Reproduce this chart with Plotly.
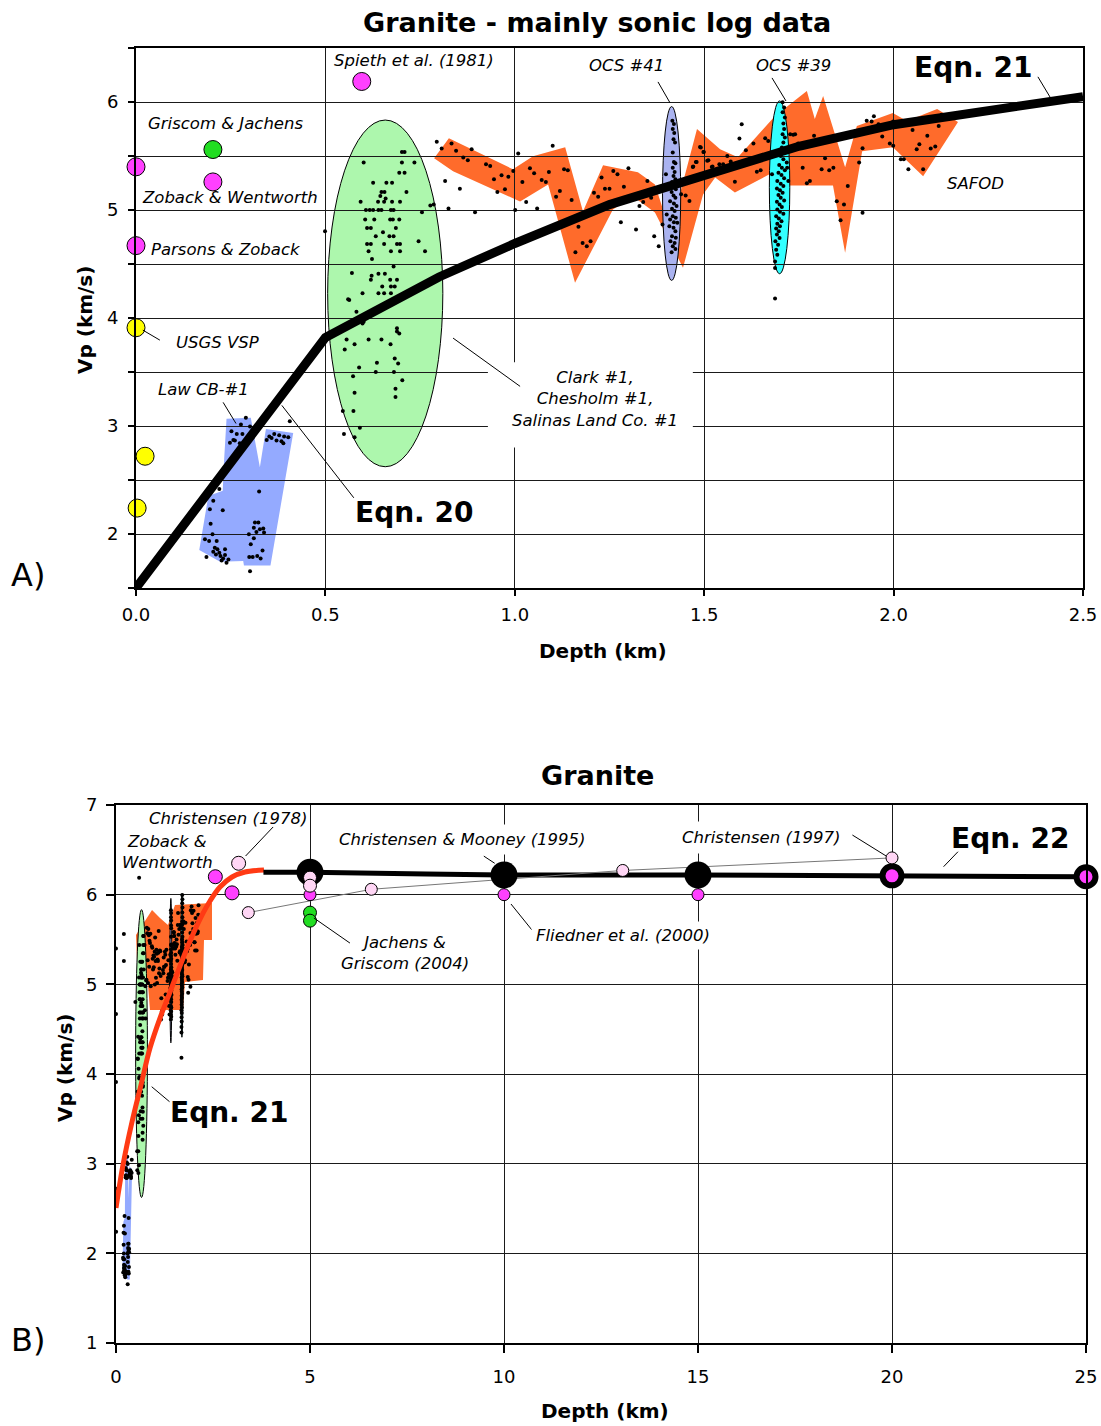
import plotly.graph_objects as go

FONT = "DejaVu Sans"

# ---------------- tick labels ----------------
A_X_TICKS = [0.0, 0.5, 1.0, 1.5, 2.0, 2.5]
A_X_TICKTEXT = ["0.0", "0.5", "1.0", "1.5", "2.0", "2.5"]
A_Y_TICKS = [1.5, 2.0, 2.5, 3.0, 3.5, 4.0, 4.5, 5.0, 5.5, 6.0, 6.5]
A_Y_TICKTEXT = ["", "2", "", "3", "", "4", "", "5", "", "6", ""]
B_X_TICKS = [0, 5, 10, 15, 20, 25]
B_Y_TICKS = [1, 2, 3, 4, 5, 6, 7]

# ---------------- sonic log samples (depth km, Vp km/s) ----------------
# Law CB-#1
law_depth = [0.290, 0.277, 0.301, 0.252, 0.266, 0.281, 0.257, 0.248, 0.261, 0.274, 0.285,
             0.352, 0.365, 0.378, 0.391, 0.402, 0.371, 0.384, 0.389, 0.345, 0.358, 0.406,
             0.220, 0.325, 0.204, 0.195, 0.229, 0.197, 0.314, 0.323, 0.311, 0.327, 0.336,
             0.318, 0.338, 0.298, 0.202, 0.311, 0.182, 0.193, 0.213, 0.303, 0.208, 0.215,
             0.235, 0.334, 0.204, 0.220, 0.211, 0.235, 0.223, 0.230, 0.186, 0.244, 0.226,
             0.239, 0.299, 0.308, 0.320, 0.329, 0.301]
law_vp = [3.076, 3.014, 2.995, 2.952, 2.927, 2.927, 2.871, 2.846, 2.865, 2.840, 2.846,
          2.902, 2.927, 2.915, 2.902, 2.896, 2.865, 2.859, 2.840, 2.871, 2.890, 3.045,
          2.416, 2.394, 2.307, 2.230, 2.220, 2.096, 2.106, 2.106, 2.059, 2.044, 2.050,
          2.019, 2.013, 1.997, 1.997, 1.960, 1.951, 1.935, 1.935, 1.904, 1.873, 1.858,
          1.858, 1.848, 1.836, 1.827, 1.811, 1.805, 1.796, 1.774, 1.786, 1.765, 1.755,
          1.734, 1.786, 1.786, 1.796, 1.774, 1.656]

# Clark #1, Chesholm #1, Salinas Land Co. #1
clark_depth = [0.702, 0.709, 0.601, 0.702, 0.735, 0.695, 0.709, 0.626, 0.661, 0.676,
               0.648, 0.656, 0.714, 0.645, 0.659, 0.593, 0.639, 0.655, 0.676, 0.697,
               0.607, 0.617, 0.626, 0.640, 0.648, 0.673, 0.680, 0.605, 0.629, 0.671,
               0.678, 0.695, 0.610, 0.620, 0.686, 0.652, 0.633, 0.669, 0.680, 0.610,
               0.620, 0.655, 0.689, 0.697, 0.614, 0.673, 0.697, 0.763, 0.623, 0.680,
               0.570, 0.622, 0.640, 0.657, 0.620, 0.671, 0.689, 0.650, 0.673, 0.683,
               0.598, 0.640, 0.655, 0.673, 0.560, 0.582, 0.601, 0.689, 0.689, 0.746,
               0.755, 0.777, 0.786, 0.499,
               0.563, 0.598, 0.556, 0.614, 0.648, 0.695, 0.672, 0.551, 0.577, 0.589,
               0.636, 0.683, 0.692, 0.633, 0.681, 0.573, 0.703, 0.577, 0.685, 0.685,
               0.546, 0.574, 0.591, 0.549, 0.577]
clark_vp = [5.538, 5.538, 5.439, 5.439, 5.439, 5.346, 5.346, 5.253, 5.253, 5.253,
            5.166, 5.166, 5.166, 5.129, 5.107, 5.076, 5.076, 5.076, 5.076, 5.076,
            4.999, 4.999, 4.999, 4.999, 4.999, 4.999, 4.999, 4.912, 4.912, 4.912,
            4.912, 4.912, 4.834, 4.834, 4.834, 4.794, 4.757, 4.757, 4.757, 4.686,
            4.686, 4.686, 4.686, 4.686, 4.618, 4.618, 4.618, 4.618, 4.546, 4.478,
            4.416, 4.391, 4.410, 4.410, 4.354, 4.354, 4.354, 4.292, 4.292, 4.292,
            4.230, 4.230, 4.230, 4.230, 4.174, 4.059, 3.966, 3.904, 3.874, 4.711,
            4.980, 5.042, 5.052, 4.804,
            4.167, 3.950, 3.802, 3.802, 3.802, 3.857, 3.758, 3.709, 3.758, 3.541,
            3.585, 3.625, 3.578, 3.501, 3.501, 3.461, 3.423, 3.309, 3.346, 3.268,
            3.138, 3.138, 2.983, 2.927, 2.896]

# OCS #41
ocs41_depth = [1.416, 1.420, 1.417, 1.421, 1.419, 1.423, 1.417, 1.420, 1.424, 1.417,
               1.422, 1.419, 1.424, 1.415, 1.420, 1.425, 1.414, 1.419, 1.424, 1.410,
               1.420, 1.427, 1.415, 1.422, 1.401, 1.417, 1.425, 1.410, 1.420, 1.429,
               1.408, 1.419, 1.424, 1.415, 1.425, 1.411, 1.422, 1.417, 1.424, 1.414,
               1.399, 1.390]
ocs41_vp = [5.826, 5.796, 5.749, 5.712, 5.656, 5.625, 5.532, 5.445, 5.433, 5.392,
            5.352, 5.315, 5.284, 5.259, 5.228, 5.191, 5.166, 5.135, 5.113, 5.082,
            5.061, 5.036, 5.011, 4.990, 4.959, 4.943, 4.928, 4.912, 4.887, 4.881,
            4.850, 4.835, 4.804, 4.757, 4.742, 4.711, 4.695, 4.664, 4.639, 4.608,
            5.331, 4.866]

# OCS #39
ocs39_depth = [1.707, 1.711, 1.707, 1.713, 1.709, 1.711, 1.707, 1.713, 1.709, 1.705,
               1.712, 1.702, 1.709, 1.718, 1.698, 1.705, 1.713, 1.696, 1.704, 1.711,
               1.693, 1.702, 1.709, 1.692, 1.700, 1.707, 1.696, 1.702, 1.711, 1.692,
               1.699, 1.705, 1.693, 1.700, 1.709, 1.690, 1.697, 1.704, 1.693, 1.700,
               1.690, 1.697, 1.692, 1.699, 1.688, 1.695, 1.690, 1.693, 1.687, 1.687,
               1.679, 1.727, 1.740, 1.719, 1.722, 1.687]
ocs39_vp = [5.997, 5.950, 5.904, 5.857, 5.802, 5.749, 5.702, 5.671, 5.625, 5.578,
            5.532, 5.501, 5.470, 5.439, 5.417, 5.392, 5.368, 5.346, 5.324, 5.293,
            5.268, 5.244, 5.222, 5.200, 5.182, 5.160, 5.138, 5.113, 5.089, 5.076,
            5.051, 5.027, 5.005, 4.983, 4.965, 4.943, 4.921, 4.896, 4.872, 4.850,
            4.828, 4.803, 4.772, 4.741, 4.710, 4.679, 4.633, 4.586, 4.524, 4.462,
            5.330, 5.702, 5.702, 5.392, 5.268, 4.180]

# SAFOD and neighbouring wells
safod_depth = [0.794, 0.807, 0.833, 0.845, 0.864, 0.876, 0.886, 0.816, 0.855, 0.825,
               0.895, 0.924, 0.935, 0.945, 0.965, 0.983, 0.954, 0.974, 0.996, 1.009,
               1.020, 1.030, 1.040, 1.051, 1.059, 1.071, 1.082, 1.090, 1.100, 1.109,
               1.119, 1.130, 1.140, 1.150, 1.001, 1.168, 1.179, 1.190, 1.200, 1.160,
               1.209, 1.220, 1.229, 1.238, 1.250, 1.260, 1.271, 1.288, 1.300, 1.280,
               1.320, 1.329, 1.339, 1.350, 1.360, 1.368, 1.380, 1.439, 1.451, 1.461,
               1.471, 1.478, 1.491, 1.499, 1.508, 1.522, 1.531,
               1.489, 1.498, 1.480, 1.470, 1.511, 1.520, 1.540, 1.550, 1.561, 1.570,
               1.581, 1.593, 1.599, 1.610, 1.630, 1.639, 1.649, 1.661, 1.669, 1.735,
               1.748, 1.760, 1.771, 1.779, 1.790, 1.810, 1.819, 1.830, 1.841, 1.850,
               1.860, 1.869, 1.879, 1.909, 1.918, 1.918, 1.929, 1.942, 1.948, 1.960,
               1.970, 1.990, 1.999, 1.999, 2.019, 2.027, 2.039, 2.050, 2.061, 2.068,
               2.078, 2.089, 2.098, 2.110, 2.119, 2.127]
safod_vp = [5.631, 5.569, 5.616, 5.548, 5.486, 5.461, 5.563, 5.269, 5.197, 5.014,
            4.980, 5.424, 5.408, 5.284, 5.321, 5.309, 5.166, 5.191, 5.362, 5.523,
            5.259, 5.073, 5.386, 5.340, 5.014, 5.278, 5.259, 5.352, 5.594, 5.123,
            5.176, 5.377, 5.368, 5.092, 4.999, 4.844, 4.695, 4.664, 4.711, 4.608,
            5.160, 5.123, 5.300, 5.197, 5.197, 5.362, 5.331, 5.216, 5.386, 4.887,
            4.819, 5.036, 5.073, 5.269, 5.113, 4.757, 4.664, 5.145, 5.135, 5.083,
            5.402, 5.445, 5.579, 5.538, 5.455, 5.402, 5.331,
            5.584, 5.538, 5.445, 5.399, 5.461, 5.399, 5.423, 5.423, 5.501, 5.448,
            5.262, 5.662, 5.795, 5.554, 5.616, 5.355, 5.368, 5.665, 5.640, 5.696,
            5.616, 5.392, 5.247, 5.268, 5.687, 5.377, 5.479, 5.368, 5.392, 5.082,
            4.906, 5.051, 5.222, 5.439, 5.572, 4.974, 5.826, 5.820, 5.867, 5.795,
            5.681, 5.616, 5.594, 5.820, 5.470, 5.470, 5.377, 5.740, 5.563, 5.609,
            5.377, 5.687, 5.569, 5.588, 5.777, 5.882]

# ---------------- envelopes around the log data ----------------
law_env_depth = [0.239, 0.303, 0.327, 0.343, 0.415, 0.355, 0.285, 0.283, 0.222, 0.167,
                 0.191, 0.229, 0.232]
law_env_vp = [3.067, 3.076, 2.617, 2.973, 2.936, 1.709, 1.709, 1.749, 1.743, 1.851,
              2.353, 2.400, 2.648]

# SAFOD band, panel A
safod_env_depth = [0.787, 0.826, 0.995, 1.048, 1.133, 1.180, 1.233, 1.325, 1.370, 1.410,
                   1.481, 1.542, 1.589, 1.687, 1.771, 1.792, 1.814, 1.872, 1.903, 1.998,
                   2.035, 2.115, 2.170,
                   2.078, 1.998, 1.917, 1.872, 1.840, 1.726, 1.687, 1.581, 1.529, 1.497,
                   1.444, 1.370, 1.312, 1.259, 1.159, 1.088, 1.014, 0.837]
safod_env_vp = [5.479, 5.665, 5.377, 5.498, 5.581, 4.986, 5.414, 5.349, 5.237, 4.800,
                5.749, 5.563, 5.488, 5.870, 6.102, 5.842, 6.056, 5.395, 5.777, 5.898,
                5.823, 5.935, 5.814,
                5.312, 5.581, 5.544, 4.605, 5.228, 5.228, 5.358, 5.163, 5.302, 5.144,
                4.465, 4.977, 5.126, 5.005, 4.326, 5.237, 5.079, 5.358]

# SAFOD block, panel B
safodB_env_depth = [0.515, 0.928, 1.134, 1.340, 1.521, 2.474, 2.474, 2.268, 2.242, 1.778,
                    1.727, 0.876, 0.825, 0.567]
safodB_env_vp = [5.550, 5.829, 5.740, 5.662, 5.885, 5.907, 5.494, 5.494, 5.048, 5.026,
                 4.714, 4.714, 4.993, 4.993]

# ellipse bounds: [depth0, depth1, vp0, vp1]
clark_ellipse = [0.506, 0.810, 2.623, 5.833]
ocs41_ellipse = [1.390, 1.438, 4.348, 5.958]
ocs39_ellipse = [1.672, 1.726, 4.410, 6.010]

# ---------------- point estimates, panel A ----------------
magentaA_depth = [0.0, 0.0, 0.203, 0.596]
magentaA_vp = [5.40, 4.67, 5.26, 6.19]
greenA_depth = [0.203]
greenA_vp = [5.56]
yellowA_depth = [0.0, 0.024, 0.003]
yellowA_vp = [3.91, 2.72, 2.24]

# Eqn. 20 and Eqn. 21
eqnA_depth = [0.0, 0.5, 0.8, 1.0, 1.25, 1.5, 1.75, 2.0, 2.25, 2.5]
eqnA_vp = [1.50, 3.82, 4.38, 4.69, 5.05, 5.32, 5.59, 5.79, 5.92, 6.05]

# ---------------- panel B ----------------
eqn21B_depth = [0.0, 0.180, 0.412, 0.644, 0.876, 1.134, 1.392, 1.649, 1.907, 2.165,
                2.423, 2.680, 2.990, 3.325, 3.814]
eqn21B_vp = [2.506, 2.985, 3.465, 3.877, 4.290, 4.624, 4.914, 5.204, 5.483, 5.728,
             5.929, 6.085, 6.197, 6.253, 6.275]

eqn22_depth = [3.8, 5.0, 8.0, 10.0, 15.0, 20.0, 22.5, 25.0]
eqn22_vp = [6.25, 6.25, 6.23, 6.22, 6.22, 6.21, 6.20, 6.20]

zw_depth = [2.56, 2.99]
zw_vp = [6.20, 6.02]
chr78_depth = [3.16]
chr78_vp = [6.35]
chr97_depth = [3.41, 6.58, 13.06, 20.0]
chr97_vp = [5.80, 6.06, 6.27, 6.41]
chr5_depth = [5.0, 5.0]
chr5_vp = [6.19, 6.10]
fliedner_depth = [5.0, 10.0, 15.0]
fliedner_vp = [6.00, 6.00, 6.00]
jachens_depth = [5.0, 5.0]
jachens_vp = [5.80, 5.71]
cm95_depth = [5.0, 10.0, 15.0]
cm95_vp = [6.25, 6.22, 6.22]
eqn22pts_depth = [20.0, 25.0]
eqn22pts_vp = [6.21, 6.20]

# ---------------- colours ----------------
ORANGE = "#ff6b2b"
LAWBLUE = "#94aaff"
CLARKGREEN = "#adf7ad"
LAVENDER = "#aab3f0"
CYAN = "#33ffff"
MAGENTA = "#ff40ff"
GREEN = "#22dd22"
YELLOW = "#ffff00"
PINK = "#ffd6f5"
RED = "#ff3a14"


def poly_path(xs, ys):
    pts = [f"{x},{y}" for x, y in zip(xs, ys)]
    return "M " + " L ".join(pts) + " Z"


fig = go.Figure()
shapes = []
annotations = []

# envelopes and ellipses, drawn in both panels beneath the grid
for xr, yr, ex, ey in (("x", "y", safod_env_depth, safod_env_vp),
                       ("x2", "y2", safodB_env_depth, safodB_env_vp)):
    shapes.append(dict(type="path", path=poly_path(ex, ey),
                       xref=xr, yref=yr, fillcolor=ORANGE, line=dict(width=0), layer="below"))
    shapes.append(dict(type="path", path=poly_path(law_env_depth, law_env_vp),
                       xref=xr, yref=yr, fillcolor=LAWBLUE, line=dict(width=0), layer="below"))
    for bounds, col in ((clark_ellipse, CLARKGREEN), (ocs41_ellipse, LAVENDER),
                        (ocs39_ellipse, CYAN)):
        shapes.append(dict(type="circle", xref=xr, yref=yr,
                           x0=bounds[0], x1=bounds[1], y0=bounds[2], y1=bounds[3],
                           fillcolor=col, line=dict(color="black", width=1), layer="below"))

all_depth = law_depth + clark_depth + ocs41_depth + ocs39_depth + safod_depth
all_vp = law_vp + clark_vp + ocs41_vp + ocs39_vp + safod_vp

# ---------- panel A ----------
fig.add_trace(go.Scatter(x=all_depth, y=all_vp, mode="markers",
                         marker=dict(size=4, color="black"), xaxis="x", yaxis="y",
                         cliponaxis=False, hoverinfo="skip"))
fig.add_trace(go.Scatter(x=eqnA_depth, y=eqnA_vp, mode="lines",
                         line=dict(color="black", width=9), xaxis="x", yaxis="y",
                         hoverinfo="skip"))
for xs, ys, col in ((magentaA_depth, magentaA_vp, MAGENTA),
                    (greenA_depth, greenA_vp, GREEN),
                    (yellowA_depth, yellowA_vp, YELLOW)):
    fig.add_trace(go.Scatter(x=xs, y=ys, mode="markers",
                             marker=dict(size=18, color=col, line=dict(color="black", width=1)),
                             xaxis="x", yaxis="y", cliponaxis=False, hoverinfo="skip"))

# white block behind the well names
shapes.append(dict(type="rect", xref="x", yref="y", x0=0.929, x1=1.470, y0=2.800, y1=3.591,
                   fillcolor="white", line=dict(width=0), layer="between"))

leadersA = [
    (0.018, 3.888, 0.063, 3.795),
    (0.230, 3.219, 0.264, 3.023),
    (0.385, 3.191, 0.575, 2.335),
    (1.378, 6.186, 1.410, 5.991),
    (1.679, 6.223, 1.716, 6.009),
    (2.381, 6.233, 2.416, 6.028),
    (0.837, 3.814, 1.014, 3.367),
]
for x0, y0, x1, y1 in leadersA:
    shapes.append(dict(type="line", xref="x", yref="y", x0=x0, y0=y0, x1=x1, y1=y1,
                       line=dict(color="black", width=1), layer="above"))

ital = dict(family=FONT, size=16.5, color="black")
eqnfont = dict(family=FONT, size=28, color="black", weight="bold")

labelsA = [
    ("<i>Spieth et al. (1981)</i>", 0.734, 6.381),
    ("<i>Griscom &amp; Jachens</i>", 0.235, 5.805),
    ("<i>Zoback &amp; Wentworth</i>", 0.248, 5.116),
    ("<i>Parsons &amp; Zoback</i>", 0.238, 4.633),
    ("<i>USGS VSP</i>", 0.216, 3.777),
    ("<i>Law CB-#1</i>", 0.177, 3.340),
    ("<i>OCS #41</i>", 1.296, 6.335),
    ("<i>OCS #39</i>", 1.737, 6.335),
    ("<i>SAFOD</i>", 2.215, 5.247),
    ("<i>Clark #1,<br>Chesholm #1,<br>Salinas Land Co. #1</i>", 1.212, 3.247),
]
for txt, x, y in labelsA:
    annotations.append(dict(text=txt, x=x, y=y, xref="x", yref="y", showarrow=False,
                            font=ital, xanchor="center", yanchor="middle"))
for txt, x, y in (("Eqn. 20", 0.734, 2.195), ("Eqn. 21", 2.210, 6.316)):
    annotations.append(dict(text=txt, x=x, y=y, xref="x", yref="y", showarrow=False,
                            font=eqnfont, xanchor="center", yanchor="middle"))

# ---------- panel B ----------
lit_depth = magentaA_depth + greenA_depth + yellowA_depth
lit_vp = magentaA_vp + greenA_vp + yellowA_vp
fig.add_trace(go.Scatter(x=all_depth + lit_depth, y=all_vp + lit_vp, mode="markers",
                         marker=dict(size=4, color="black"), xaxis="x2", yaxis="y2",
                         cliponaxis=False, hoverinfo="skip"))
fig.add_trace(go.Scatter(x=eqn21B_depth, y=eqn21B_vp, mode="lines", line_shape="spline",
                         line=dict(color=RED, width=5), xaxis="x2", yaxis="y2",
                         hoverinfo="skip"))
fig.add_trace(go.Scatter(x=eqn22_depth, y=eqn22_vp, mode="lines",
                         line=dict(color="black", width=5), xaxis="x2", yaxis="y2",
                         hoverinfo="skip"))
fig.add_trace(go.Scatter(x=chr97_depth, y=chr97_vp, mode="lines",
                         line=dict(color="#777777", width=1), xaxis="x2", yaxis="y2",
                         hoverinfo="skip"))
fig.add_trace(go.Scatter(x=cm95_depth, y=cm95_vp, mode="markers",
                         marker=dict(size=27, color="black"), xaxis="x2", yaxis="y2",
                         cliponaxis=False, hoverinfo="skip"))
fig.add_trace(go.Scatter(x=eqn22pts_depth, y=eqn22pts_vp, mode="markers",
                         marker=dict(size=19, color=MAGENTA, line=dict(color="black", width=6)),
                         xaxis="x2", yaxis="y2", cliponaxis=False, hoverinfo="skip"))
for xs, ys, col, sz in ((chr97_depth, chr97_vp, PINK, 12),
                        (fliedner_depth, fliedner_vp, MAGENTA, 12),
                        (jachens_depth, jachens_vp, GREEN, 13),
                        (chr5_depth, chr5_vp, PINK, 13),
                        (zw_depth, zw_vp, MAGENTA, 14),
                        (chr78_depth, chr78_vp, PINK, 14)):
    fig.add_trace(go.Scatter(x=xs, y=ys, mode="markers",
                             marker=dict(size=sz, color=col, line=dict(color="black", width=1)),
                             xaxis="x2", yaxis="y2", cliponaxis=False, hoverinfo="skip"))

leadersB = [
    (4.05, 6.755, 3.34, 6.431),
    (9.48, 6.43, 9.76, 6.35),
    (18.98, 6.665, 19.85, 6.431),
    (21.70, 6.479, 21.33, 6.312),
    (5.10, 5.74, 6.03, 5.46),
    (10.18, 5.896, 10.72, 5.606),
    (0.92, 3.858, 1.38, 3.691),
]
for x0, y0, x1, y1 in leadersB:
    shapes.append(dict(type="line", xref="x2", yref="y2", x0=x0, y0=y0, x1=x1, y1=y1,
                       line=dict(color="black", width=1), layer="above"))

labelsB = [
    ("<i>Christensen (1978)</i>", 2.89, 6.855, None, 0),
    ("<i>Zoback &amp;<br>Wentworth</i>", 1.34, 6.476, None, 0),
    ("<i>Christensen &amp; Mooney (1995)</i>", 8.92, 6.61, "white", 5),
    ("<i>Christensen (1997)</i>", 16.62, 6.643, "white", 6),
    ("<i>Jachens &amp;<br>Griscom (2004)</i>", 7.45, 5.35, None, 0),
    ("<i>Fliedner et al. (2000)</i>", 13.07, 5.55, "white", 4),
]
for txt, x, y, bg, pad in labelsB:
    ann = dict(text=txt, x=x, y=y, xref="x2", yref="y2", showarrow=False,
               font=ital, xanchor="center", yanchor="middle", borderpad=pad)
    if bg:
        ann["bgcolor"] = bg
    annotations.append(ann)
for txt, x, y in (("Eqn. 22", 23.04, 6.632), ("Eqn. 21", 2.91, 3.576)):
    annotations.append(dict(text=txt, x=x, y=y, xref="x2", yref="y2", showarrow=False,
                            font=eqnfont, xanchor="center", yanchor="middle"))

# ---------- titles and axis names ----------
bold20 = dict(family=FONT, size=20, color="black", weight="bold")
paper_text = [
    ("Granite - mainly sonic log data", 0.5422, 0.98457, dict(family=FONT, size=27, color="black", weight="bold"), 0),
    ("Granite", 0.5431, 0.45652, dict(family=FONT, size=27, color="black", weight="bold"), 0),
    ("Depth (km)", 0.5477, 0.54348, bold20, 0),
    ("Depth (km)", 0.5495, 0.01052, bold20, 0),
    ("Vp (km/s)", 0.0772, 0.7756, bold20, -90),
    ("Vp (km/s)", 0.0590, 0.25105, bold20, -90),
    ("A)", 0.0254, 0.59677, dict(family=FONT, size=32, color="black"), 0),
    ("B)", 0.0254, 0.06031, dict(family=FONT, size=32, color="black"), 0),
]
for txt, x, y, f, ang in paper_text:
    annotations.append(dict(text=txt, x=x, y=y, xref="paper", yref="paper", showarrow=False,
                            font=f, textangle=ang, xanchor="center", yanchor="middle"))

axis_style = dict(showline=True, linecolor="black", linewidth=2, mirror=True,
                  showgrid=True, gridcolor="#1a1a1a", gridwidth=1, zeroline=False,
                  ticks="outside", tickcolor="black", tickwidth=1.5,
                  tickfont=dict(family=FONT, size=18, color="black"), tickmode="array")

fig.update_layout(
    width=1101, height=1426, template="none",
    margin=dict(l=0, r=0, t=0, b=0),
    paper_bgcolor="white", plot_bgcolor="white", showlegend=False,
    xaxis=dict(axis_style, domain=[136 / 1101, 1083 / 1101], range=[0, 2.5], anchor="y",
               tickvals=A_X_TICKS, ticktext=A_X_TICKTEXT, ticklen=6, ticklabelstandoff=3),
    yaxis=dict(axis_style, domain=[1 - 588 / 1426, 1 - 48 / 1426], range=[1.5, 6.5], anchor="x",
               tickvals=A_Y_TICKS, ticktext=A_Y_TICKTEXT, ticklen=6, ticklabelstandoff=6),
    xaxis2=dict(axis_style, domain=[116 / 1101, 1086 / 1101], range=[0, 25], anchor="y2",
                tickvals=B_X_TICKS, ticktext=[str(v) for v in B_X_TICKS], ticklen=8,
                ticklabelstandoff=8),
    yaxis2=dict(axis_style, domain=[1 - 1343 / 1426, 1 - 805 / 1426], range=[1, 7], anchor="x2",
                tickvals=B_Y_TICKS, ticktext=[str(v) for v in B_Y_TICKS], ticklen=8,
                ticklabelstandoff=5),
    shapes=shapes,
    annotations=annotations,
)

fig.write_html("out.html")
